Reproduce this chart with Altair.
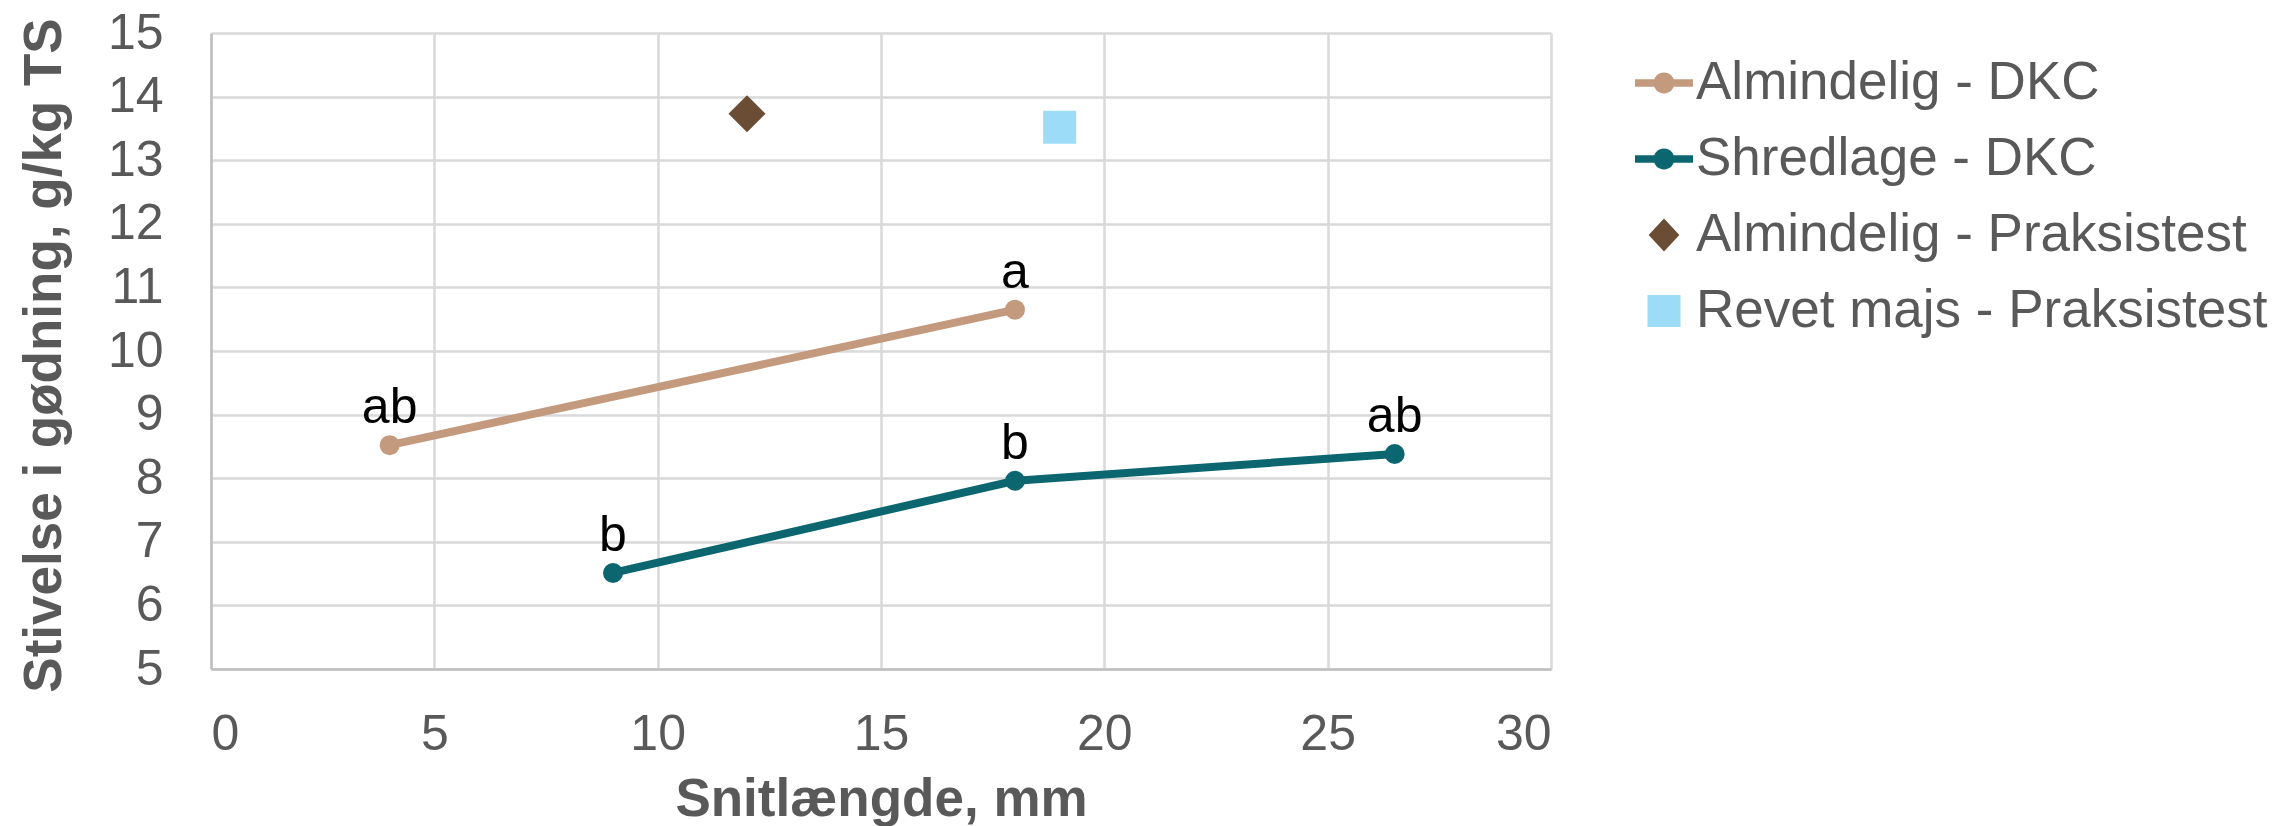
import altair as alt
import pandas as pd

# ---- data ----
series_names = [
    "Almindelig - DKC",
    "Shredlage - DKC",
    "Almindelig - Praksistest",
    "Revet majs - Praksistest",
]
series_colors = ["#C49A7E", "#0B6670", "#6B4C35", "#9DDCF7"]

alm_dkc_x = [4, 18]
alm_dkc_y = [8.52, 10.65]
alm_dkc_lbl = ["ab", "a"]

shr_dkc_x = [9, 18, 26.5]
shr_dkc_y = [6.51, 7.96, 8.38]
shr_dkc_lbl = ["b", "b", "ab"]

alm_prak_x = [12]
alm_prak_y = [13.73]

revet_prak_x = [19]
revet_prak_y = [13.52]

x_ticks = [0, 5, 10, 15, 20, 25, 30]
y_ticks = [5, 6, 7, 8, 9, 10, 11, 12, 13, 14, 15]

# legend symbols (unit box paths)
legend_paths = [
    "M-1,-0.13L1,-0.13L1,0.13L-1,0.13Z M-0.36,0 A0.36,0.36 0 1 1 0.36,0 A0.36,0.36 0 1 1 -0.36,0 Z",
    "M-1,-0.13L1,-0.13L1,0.13L-1,0.13Z M-0.36,0 A0.36,0.36 0 1 1 0.36,0 A0.36,0.36 0 1 1 -0.36,0 Z",
    "M0,-0.57L0.53,0L0,0.57L-0.53,0Z",
    "M-0.57,-0.55L0.57,-0.55L0.57,0.55L-0.57,0.55Z",
]

rows = []
for x, y, l in zip(alm_dkc_x, alm_dkc_y, alm_dkc_lbl):
    rows.append({"series": series_names[0], "x": x, "y": y, "label": l})
for x, y, l in zip(shr_dkc_x, shr_dkc_y, shr_dkc_lbl):
    rows.append({"series": series_names[1], "x": x, "y": y, "label": l})
for x, y in zip(alm_prak_x, alm_prak_y):
    rows.append({"series": series_names[2], "x": x, "y": y, "label": ""})
for x, y in zip(revet_prak_x, revet_prak_y):
    rows.append({"series": series_names[3], "x": x, "y": y, "label": ""})
df = pd.DataFrame(rows)

FONT = "Liberation Sans"
GREY = "#595959"

xenc = alt.X(
    "x:Q",
    scale=alt.Scale(domain=[0, 30], nice=False, zero=False),
    axis=alt.Axis(
        values=x_ticks,
        title="Snitlængde, mm",
        titleFont=FONT,
        titleFontSize=53,
        titleFontWeight="bold",
        titleColor=GREY,
        titleBaseline="alphabetic",
        titleY=146,
        labelFont=FONT,
        labelFontSize=50,
        labelColor=GREY,
        labelPadding=40,
        ticks=False,
        tickSize=0,
        domainColor="#BFBFBF",
        domainWidth=2.5,
        gridColor="#D9D9D9",
        gridWidth=2.5,
    ),
)
yenc = alt.Y(
    "y:Q",
    scale=alt.Scale(domain=[5, 15], nice=False, zero=False),
    axis=alt.Axis(
        values=y_ticks,
        title="Stivelse i gødning, g/kg TS",
        titleFont=FONT,
        titleFontSize=53,
        titleFontWeight="bold",
        titleColor=GREY,
        titleAngle=270,
        titleBaseline="alphabetic",
        titleAlign="center",
        titleX=-151,
        titleY=322,
        labelFont=FONT,
        labelFontSize=50,
        labelColor=GREY,
        labelPadding=48,
        ticks=False,
        tickSize=0,
        domainColor="#BFBFBF",
        domainWidth=2.5,
        gridColor="#D9D9D9",
        gridWidth=2.5,
    ),
)

color_scale = alt.Scale(domain=series_names, range=series_colors)
color_nolegend = alt.Color("series:N", scale=color_scale, legend=None)

base = alt.Chart(df)
dkc = base.transform_filter(
    alt.FieldOneOfPredicate(field="series", oneOf=series_names[:2])
)

lines = dkc.mark_line(strokeWidth=8).encode(x=xenc, y=yenc, color=color_nolegend)
dots = dkc.mark_circle(size=400, opacity=1).encode(x=xenc, y=yenc, color=color_nolegend)
labels = dkc.mark_text(
    font=FONT, fontSize=50, color="black", baseline="alphabetic", dy=-22
).encode(x=xenc, y=yenc, text="label:N")

diamond = base.transform_filter(
    alt.datum.series == series_names[2]
).mark_point(shape="diamond", filled=True, size=1369, opacity=1, strokeWidth=0).encode(
    x=xenc, y=yenc, color=color_nolegend
)
square = base.transform_filter(
    alt.datum.series == series_names[3]
).mark_point(shape="square", filled=True, size=1089, opacity=1, strokeWidth=0).encode(
    x=xenc, y=yenc, color=color_nolegend
)

leg = alt.Legend(
    orient="none",
    legendX=1424,
    legendY=21,
    title=None,
    padding=0,
    symbolSize=3364,
    symbolStrokeWidth=0,
    symbolOpacity=1,
    labelFont=FONT,
    labelFontSize=53,
    labelColor=GREY,
    labelOffset=3,
    labelLimit=800,
    rowPadding=20,
)
legend_layer = base.mark_point(filled=True, opacity=0).encode(
    x=xenc,
    y=yenc,
    color=alt.Color("series:N", scale=color_scale, legend=leg, sort=series_names),
    shape=alt.Shape(
        "series:N",
        scale=alt.Scale(domain=series_names, range=legend_paths),
        legend=leg,
        sort=series_names,
    ),
)

chart = (
    alt.layer(legend_layer, lines, dots, labels, diamond, square)
    .resolve_scale(color="independent", shape="independent")
    .properties(
        width=1340,
        height=636,
        padding={"left": 211, "top": 33, "right": 728, "bottom": 157},
        autosize=alt.AutoSizeParams(type="none"),
        background="white",
    )
    .configure_view(stroke=None)
)

chart.save("out.html", embed_options={"renderer": "svg", "actions": False})
